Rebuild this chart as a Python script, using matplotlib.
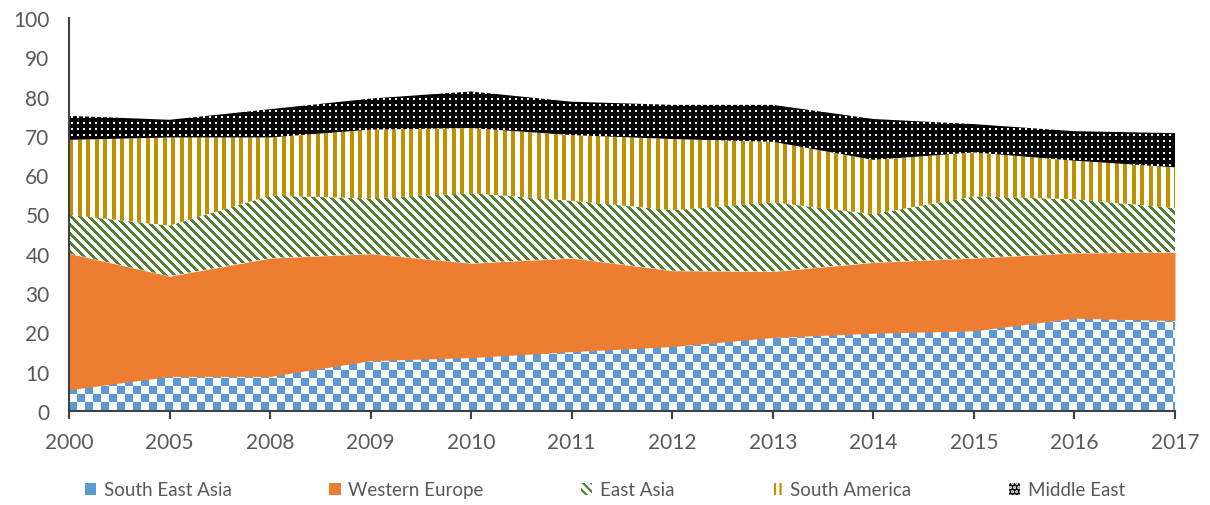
import numpy as np
import matplotlib
matplotlib.use('Agg')
import matplotlib.pyplot as plt
from matplotlib.patches import Patch

plt.rcParams['font.family'] = ['Lato', 'DejaVu Sans']

years = ['2000', '2005', '2008', '2009', '2010', '2011', '2012', '2013', '2014', '2015', '2016', '2017']
south_east_asia = [5.4, 8.8, 8.8, 12.8, 13.6, 15.1, 16.4, 18.7, 19.8, 20.4, 23.6, 23.0]
western_europe = [34.7, 25.5, 30.1, 27.2, 24.0, 23.8, 19.3, 16.8, 18.0, 18.5, 16.6, 17.4]
east_asia = [9.8, 12.9, 15.9, 14.1, 17.8, 14.6, 15.4, 17.6, 12.3, 15.7, 13.7, 11.2]
south_america = [19.1, 22.4, 14.8, 17.5, 16.6, 16.7, 18.1, 15.4, 13.8, 11.2, 9.8, 10.4]
middle_east = [6.1, 4.5, 7.2, 7.9, 9.3, 8.5, 8.7, 9.4, 10.4, 7.2, 7.5, 8.7]

BLUE = '#5B9BD5'
ORANGE = '#ED7D31'
GREEN = '#548235'
GOLD = '#BF9000'
TEXT = '#595959'

W, H = 1210, 506
fig = plt.figure(figsize=(W / 100, H / 100), dpi=100)
ax = fig.add_axes([69 / W, 1 - 412 / H, 1106 / W, 393 / H])

x = np.arange(len(years))

# pixel textures (Excel-like pattern fills)
tw, th = 1106, 393
rr, cc = np.indices((th, tw))


def rgb(hexcol):
    return np.array(matplotlib.colors.to_rgb(hexcol))


def texture(mask, fg, bg='white'):
    img = np.empty((th, tw, 3))
    img[:] = rgb(bg)
    img[mask] = rgb(fg)
    return img


tex_sea = texture(((rr // 8 + cc // 8) % 2) == 0, BLUE)
tex_ea = texture(((cc - rr) % 9) < 4, GREEN)
tex_sa = texture(((2 * cc) % 17) < 8, GOLD)
tex_me = texture(~(((rr % 6) >= 2) & ((rr % 6) < 4) & ((cc % 6) >= 2) & ((cc % 6) < 4)), 'black')

series = [
    (south_east_asia, tex_sea),
    (western_europe, ORANGE),
    (east_asia, tex_ea),
    (south_america, tex_sa),
    (middle_east, tex_me),
]

base = np.zeros(len(years))
for vals, style in series:
    top = base + np.array(vals)
    if isinstance(style, str):
        ax.fill_between(x, base, top, color=style, lw=0, zorder=2)
    else:
        poly = ax.fill_between(x, base, top, facecolor='none', lw=0, zorder=2)
        im = ax.imshow(style, extent=(0, len(years) - 1, 0, 100), aspect='auto',
                       interpolation='nearest', origin='upper', zorder=2)
        im.set_clip_path(poly.get_paths()[0], ax.transData)
    base = top

ax.set_xlim(0, len(years) - 1)
ax.set_ylim(0, 100)
ax.set_xticks(x)
ax.set_xticklabels(years)
ax.set_yticks(np.arange(0, 101, 10))

for s in ['top', 'right']:
    ax.spines[s].set_visible(False)
for s in ['left', 'bottom']:
    ax.spines[s].set_color('#404040')
    ax.spines[s].set_linewidth(1.5)
    ax.spines[s].set_zorder(5)

ax.tick_params(axis='x', length=6, width=1.5, color='#404040', pad=9, labelsize=15, labelcolor=TEXT)
ax.tick_params(axis='y', length=0, pad=14, labelsize=15, labelcolor=TEXT)

plt.rcParams['hatch.linewidth'] = 1.6
handles = [
    Patch(facecolor=BLUE, lw=0),
    Patch(facecolor=ORANGE, lw=0),
    Patch(facecolor='white', edgecolor=GREEN, hatch='\\\\\\\\', lw=0),
    Patch(facecolor='white', edgecolor=GOLD, hatch='|||', lw=0),
    Patch(facecolor='black', edgecolor='white', hatch='....', lw=0),
]
labels = ['South East Asia', 'Western Europe', 'East Asia', 'South America', 'Middle East']
leg = fig.legend(handles, labels, loc='center', bbox_to_anchor=(0.5, 1 - 491 / H), ncol=5,
                 frameon=False, fontsize=13.5, handlelength=0.6, handleheight=0.6,
                 handletextpad=0.4, columnspacing=5.2)
for t in leg.get_texts():
    t.set_color(TEXT)

fig.savefig('out.png', dpi=100)
